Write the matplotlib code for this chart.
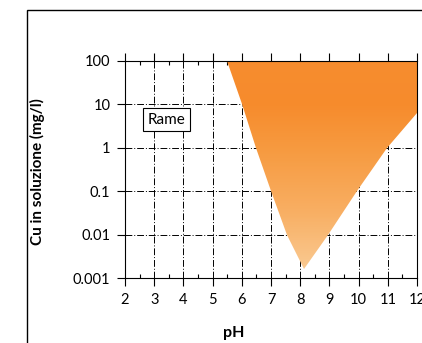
import numpy as np
import matplotlib.pyplot as plt
from matplotlib.colors import LinearSegmentedColormap
from matplotlib.patches import Polygon, Rectangle
from matplotlib.ticker import FixedLocator, NullLocator, FixedFormatter

plt.rcParams['font.family'] = ['Lato', 'DejaVu Sans']

# solubility region of copper (pH vs mg/l)
left_ph = [5.48, 6.0, 6.5, 7.0, 7.55, 8.12]
left_cu = [100, 10, 1, 0.1, 0.01, 0.0016]
right_ph = [8.12, 8.95, 9.95, 10.98, 12.0, 12.0]
right_cu = [0.0016, 0.01, 0.1, 1, 6.3, 100]

x_ticks = [2, 3, 4, 5, 6, 7, 8, 9, 10, 11, 12]
y_ticks = [0.001, 0.01, 0.1, 1, 10, 100]
y_labels = ['0.001', '0.01', '0.1', '1', '10', '100']

fig = plt.figure(figsize=(4.22, 3.43), dpi=100)
ax = fig.add_axes([125/422, 1-278.3/343, (417-125)/422, (278.3-61)/343])
ax.set_yscale('log')
ax.set_xlim(2, 12)
ax.set_ylim(0.001, 100)

# outer frame of the figure
fig.patches.append(Rectangle((27/422, -0.1), 1.0, 1-10/343+0.1, transform=fig.transFigure,
                             fill=False, edgecolor='black', linewidth=1.0, clip_on=False))

# grid
for x in x_ticks[1:-1]:
    ax.axvline(x, color='black', linewidth=0.7, linestyle=(0, (7, 2, 1, 2)), zorder=1)
for y in y_ticks[1:-1]:
    ax.axhline(y, color='black', linewidth=0.7, linestyle=(0, (7, 2, 1, 2)), zorder=1)

# gradient filled region
cmap = LinearSegmentedColormap.from_list('cu', [
    (0.0, '#FACC94'), (0.08, '#F9C58A'), (0.31, '#F8AE62'),
    (0.59, '#F69A40'), (0.8, '#F68B2C'), (1.0, '#F68C2E')])
ye = np.logspace(-3, 2, 300)
xe = np.array([2, 12])
C = np.log10(np.sqrt(ye[:-1] * ye[1:]))[:, None]
mesh = ax.pcolormesh(xe, ye, C, cmap=cmap, vmin=-3, vmax=2, shading='flat', zorder=2)
verts = list(zip(left_ph, left_cu)) + list(zip(right_ph, right_cu))
poly = Polygon(verts, closed=True, facecolor='none', edgecolor='none', transform=ax.transData)
ax.add_patch(poly)
mesh.set_clip_path(poly)

# ticks
ax.xaxis.set_major_locator(FixedLocator(x_ticks))
ax.xaxis.set_minor_locator(FixedLocator(np.array(x_ticks[:-1]) + 0.5))
ax.yaxis.set_major_locator(FixedLocator(y_ticks))
ax.yaxis.set_major_formatter(FixedFormatter(y_labels))
ax.yaxis.set_minor_locator(NullLocator())
ax.tick_params(axis='x', which='major', direction='out', length=5.5, width=0.8,
               top=True, bottom=True, labelsize=10.5, pad=5)
ax.tick_params(axis='x', which='minor', direction='in', length=3, width=0.8, top=True, bottom=True)
ax.tick_params(axis='y', which='major', direction='out', length=5.5, width=0.8,
               left=True, right=False, labelsize=10.5, pad=5)
for s in ax.spines.values():
    s.set_linewidth(0.8)
    s.set_zorder(3)

ax.text(3.42, 4.5, 'Rame', fontsize=11, ha='center', va='center', zorder=4,
        bbox=dict(boxstyle='square,pad=0.32', facecolor='white', edgecolor='black', linewidth=0.8))

fig.text(37/422, 1-172/343, 'Cu in soluzione (mg/l)', rotation=90, ha='center', va='center',
         fontsize=11, fontweight='bold')
fig.text(234/422, 1-333/343, 'pH', ha='center', va='center', fontsize=11.5, fontweight='bold')

fig.savefig('out.png', dpi=100)
